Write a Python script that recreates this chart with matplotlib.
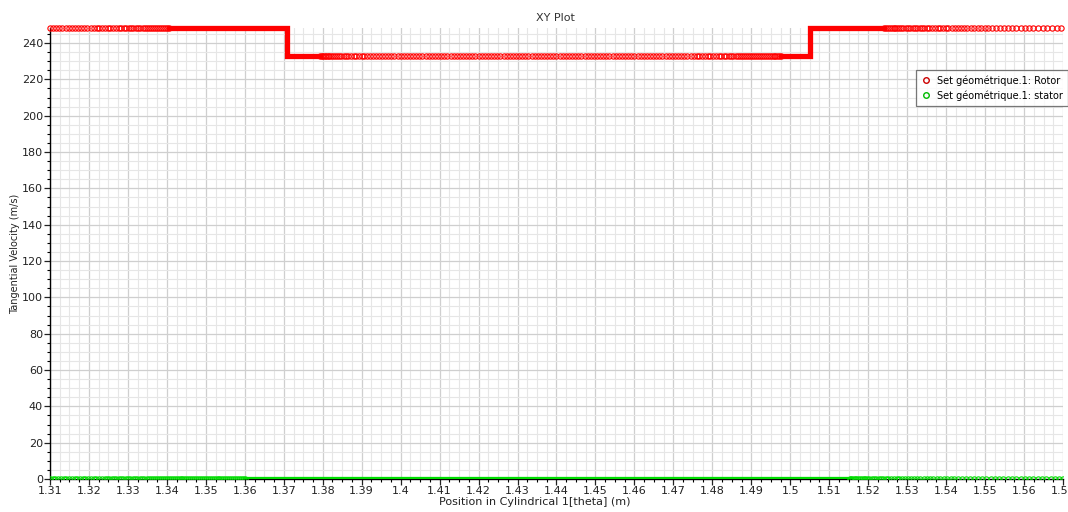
import numpy as np
import matplotlib.pyplot as plt
from matplotlib.ticker import MultipleLocator, FixedLocator, FixedFormatter

# rotor: tangential velocity levels along theta
rotor_high = 248.5
rotor_low = 233.0
rotor_step = [1.3708, 1.5051]

# node positions where the rotor samples are spread out enough to see
rotor_x_left = [
    1.3100, 1.3108, 1.3116, 1.3124, 1.3132, 1.3140, 1.3148, 1.3156, 1.3164, 1.3172,
    1.3180, 1.3188, 1.3196, 1.3204, 1.3212, 1.3220, 1.3227, 1.3234, 1.3241, 1.3248,
    1.3255, 1.3262, 1.3269, 1.3276, 1.3283, 1.3290, 1.3296, 1.3302, 1.3308, 1.3314,
    1.3320, 1.3326, 1.3332, 1.3338, 1.3344, 1.3350, 1.3355, 1.3360, 1.3365, 1.3370,
    1.3375, 1.3380, 1.3385, 1.3390, 1.3395, 1.3400, 1.3405]
rotor_x_mid = [
    1.3793, 1.3797, 1.3801, 1.3805, 1.3809, 1.3813, 1.3817, 1.3822, 1.3827, 1.3832,
    1.3837, 1.3842, 1.3848, 1.3854, 1.3860, 1.3866, 1.3872, 1.3879, 1.3886, 1.3893,
    1.3900, 1.3907, 1.3914, 1.3921, 1.3928, 1.3936, 1.3944, 1.3952, 1.3960, 1.3968,
    1.3976, 1.3984, 1.3992, 1.4000, 1.4008, 1.4016, 1.4024, 1.4032, 1.4040, 1.4048,
    1.4056, 1.4064, 1.4072, 1.4080, 1.4088, 1.4096, 1.4104, 1.4112, 1.4120, 1.4128,
    1.4136, 1.4144, 1.4152, 1.4160, 1.4168, 1.4176, 1.4184, 1.4192, 1.4200, 1.4208,
    1.4216, 1.4224, 1.4232, 1.4240, 1.4248, 1.4256, 1.4264, 1.4272, 1.4280, 1.4288,
    1.4296, 1.4304, 1.4312, 1.4320, 1.4328, 1.4336, 1.4344, 1.4352, 1.4360, 1.4368,
    1.4376, 1.4384, 1.4392, 1.4400, 1.4408, 1.4416, 1.4424, 1.4432, 1.4440, 1.4448,
    1.4456, 1.4464, 1.4472, 1.4480, 1.4488, 1.4496, 1.4504, 1.4512, 1.4520, 1.4528,
    1.4536, 1.4544, 1.4552, 1.4560, 1.4568, 1.4576, 1.4584, 1.4592, 1.4600, 1.4608,
    1.4616, 1.4624, 1.4632, 1.4640, 1.4648, 1.4656, 1.4664, 1.4672, 1.4680, 1.4688,
    1.4696, 1.4704, 1.4712, 1.4720, 1.4728, 1.4736, 1.4744, 1.4752, 1.4760, 1.4767,
    1.4774, 1.4781, 1.4788, 1.4795, 1.4802, 1.4809, 1.4816, 1.4823, 1.4830, 1.4836,
    1.4842, 1.4848, 1.4854, 1.4860, 1.4866, 1.4872, 1.4877, 1.4882, 1.4887, 1.4892,
    1.4897, 1.4902, 1.4907, 1.4912, 1.4917, 1.4922, 1.4927, 1.4932, 1.4937, 1.4942,
    1.4947, 1.4952, 1.4957, 1.4962, 1.4967, 1.4971, 1.4975]
rotor_x_right = [
    1.5240, 1.5245, 1.5250, 1.5255, 1.5260, 1.5265, 1.5270, 1.5275, 1.5280, 1.5285,
    1.5290, 1.5296, 1.5302, 1.5308, 1.5314, 1.5320, 1.5326, 1.5332, 1.5338, 1.5344,
    1.5350, 1.5357, 1.5364, 1.5371, 1.5378, 1.5385, 1.5392, 1.5399, 1.5406, 1.5414,
    1.5422, 1.5430, 1.5438, 1.5446, 1.5454, 1.5463, 1.5472, 1.5481, 1.5490, 1.5499,
    1.5508, 1.5518, 1.5528, 1.5538, 1.5548, 1.5558, 1.5569, 1.5580, 1.5591, 1.5602,
    1.5613, 1.5624, 1.5636, 1.5648, 1.5660, 1.5672, 1.5684, 1.5696]
# packed nodes around the two steps (markers merge into a solid band)
rotor_band1_x = [1.3405, rotor_step[0], rotor_step[0], 1.3793]
rotor_band1_y = [rotor_high, rotor_high, rotor_low, rotor_low]
rotor_band2_x = [1.4975, rotor_step[1], rotor_step[1], 1.5240]
rotor_band2_y = [rotor_low, rotor_low, rotor_high, rotor_high]

# stator: zero tangential velocity
stator_val = 0.0
stator_x_left = [
    1.3100, 1.3107, 1.3114, 1.3121, 1.3128, 1.3135, 1.3142, 1.3149, 1.3156, 1.3163,
    1.3170, 1.3177, 1.3184, 1.3191, 1.3198, 1.3205, 1.3212, 1.3219, 1.3226, 1.3233,
    1.3240, 1.3246, 1.3252, 1.3258, 1.3264, 1.3270, 1.3276, 1.3282, 1.3288, 1.3294,
    1.3300, 1.3306, 1.3312, 1.3318, 1.3324, 1.3330, 1.3336, 1.3342, 1.3348, 1.3354,
    1.3360, 1.3365, 1.3370, 1.3375, 1.3380, 1.3385, 1.3390, 1.3395, 1.3400, 1.3405,
    1.3410, 1.3415, 1.3420, 1.3425, 1.3430, 1.3435, 1.3440, 1.3445, 1.3450, 1.3455,
    1.3460, 1.3465, 1.3470, 1.3475, 1.3480, 1.3485, 1.3490, 1.3495, 1.3500, 1.3505,
    1.3510, 1.3515, 1.3520, 1.3525, 1.3530, 1.3535, 1.3540, 1.3545, 1.3550, 1.3555,
    1.3560, 1.3565, 1.3570, 1.3575, 1.3580, 1.3585, 1.3590, 1.3595, 1.3600]
stator_x_right = [
    1.5153, 1.5157, 1.5161, 1.5165, 1.5169, 1.5173, 1.5178, 1.5183, 1.5188, 1.5193,
    1.5198, 1.5203, 1.5209, 1.5215, 1.5221, 1.5227, 1.5233, 1.5239, 1.5245, 1.5252,
    1.5259, 1.5266, 1.5273, 1.5280, 1.5287, 1.5294, 1.5302, 1.5310, 1.5318, 1.5326,
    1.5334, 1.5342, 1.5350, 1.5358, 1.5367, 1.5376, 1.5385, 1.5394, 1.5403, 1.5412,
    1.5421, 1.5431, 1.5441, 1.5451, 1.5461, 1.5471, 1.5481, 1.5492, 1.5503, 1.5514,
    1.5525, 1.5536, 1.5547, 1.5558, 1.5569, 1.5580, 1.5591, 1.5602, 1.5613, 1.5624,
    1.5635, 1.5646, 1.5657, 1.5668, 1.5679, 1.5690, 1.5700]
stator_band_x = [1.3600, 1.5153]

xticks = [1.31, 1.32, 1.33, 1.34, 1.35, 1.36, 1.37, 1.38, 1.39, 1.40, 1.41, 1.42, 1.43, 1.44,
          1.45, 1.46, 1.47, 1.48, 1.49, 1.50, 1.51, 1.52, 1.53, 1.54, 1.55, 1.56, 1.57]
xtick_labels = ['1.31', '1.32', '1.33', '1.34', '1.35', '1.36', '1.37', '1.38', '1.39', '1.4',
                '1.41', '1.42', '1.43', '1.44', '1.45', '1.46', '1.47', '1.48', '1.49', '1.5',
                '1.51', '1.52', '1.53', '1.54', '1.55', '1.56', '1.57']

labels = ['Set géométrique.1: Rotor', 'Set géométrique.1: stator']
red = '#ff0000'
green = '#00dd00'

fig = plt.figure(figsize=(10.68, 5.12), dpi=100)
ax = fig.add_axes([50 / 1068, 1 - 479 / 512, 1013 / 1068, 451 / 512])

mk = dict(marker='o', ms=3.8, mfc='none', mew=0.8, ls='none')
band_lw = 3.8

# rotor
ax.plot(rotor_band1_x, rotor_band1_y, color=red, lw=band_lw,
        solid_joinstyle='miter', clip_on=False, zorder=3)
ax.plot(rotor_band2_x, rotor_band2_y, color=red, lw=band_lw,
        solid_joinstyle='miter', clip_on=False, zorder=3)
ax.plot(rotor_x_left, [rotor_high] * len(rotor_x_left), mec=red, clip_on=False, zorder=3, **mk)
ax.plot(rotor_x_mid, [rotor_low] * len(rotor_x_mid), mec=red, clip_on=False, zorder=3, **mk)
ax.plot(rotor_x_right, [rotor_high] * len(rotor_x_right), mec=red, clip_on=False, zorder=3, **mk)

# stator
ax.plot(stator_band_x, [stator_val] * 2, color=green, lw=band_lw, zorder=3)
ax.plot(stator_x_left, [stator_val] * len(stator_x_left), mec=green, zorder=3, **mk)
ax.plot(stator_x_right, [stator_val] * len(stator_x_right), mec=green, zorder=3, **mk)

ax.set_xlim(1.31, 1.57)
ax.set_ylim(0, 248.3)

ax.xaxis.set_major_locator(FixedLocator(xticks))
ax.xaxis.set_major_formatter(FixedFormatter(xtick_labels))
ax.xaxis.set_minor_locator(MultipleLocator(0.0025))
ax.yaxis.set_major_locator(MultipleLocator(20))
ax.yaxis.set_minor_locator(MultipleLocator(5))

ax.grid(which='major', color='#cfcfcf', lw=0.9)
ax.grid(which='minor', color='#e6e6e6', lw=0.8)
ax.set_axisbelow(True)

for s in ['top', 'right']:
    ax.spines[s].set_visible(False)
for s in ['left', 'bottom']:
    ax.spines[s].set_linewidth(1.0)

ax.tick_params(which='major', direction='out', length=4, width=0.9, labelsize=8, pad=1, colors='#222222')
ax.tick_params(which='minor', direction='out', length=2.5, width=0.8)

ax.set_xlabel('Position in Cylindrical 1[theta] (m)', fontsize=8, color='#222222')
ax.xaxis.set_label_coords((535 - 50) / 1013, -18 / 451)
ax.set_ylabel('Tangential Velocity (m/s)', fontsize=7, color='#222222')
ax.yaxis.set_label_coords(-30 / 1013, 0.5)
fig.text(555 / 1068, 1 - 18 / 512, 'XY Plot', ha='center', va='center', fontsize=8, color='#333333')

# legend
h1, = ax.plot([], [], marker='o', ms=4, mfc='none', mew=1.0, mec='#cc0000', ls='none')
h2, = ax.plot([], [], marker='o', ms=4, mfc='none', mew=1.0, mec='#00bb00', ls='none')
leg = fig.legend([h1, h2], labels, loc='upper left',
                 bbox_to_anchor=(916 / 1068, 1 - 70 / 512), fontsize=7,
                 frameon=True, fancybox=False, borderpad=0.55, handlelength=1.0,
                 handletextpad=0.6, labelspacing=0.45, borderaxespad=0)
leg.get_frame().set_edgecolor('#555555')
leg.get_frame().set_linewidth(0.9)

fig.savefig('out.png', dpi=100)
